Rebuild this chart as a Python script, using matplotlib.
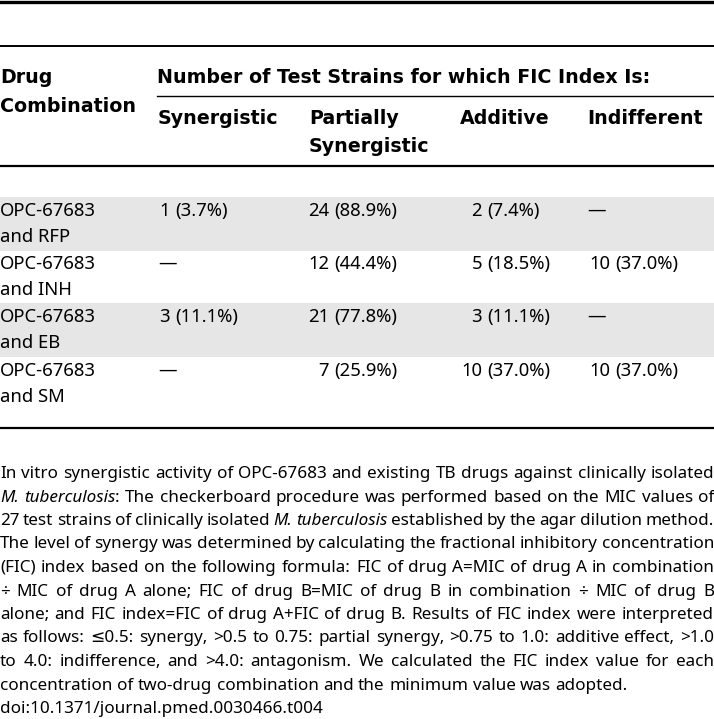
import matplotlib.pyplot as plt

W, H = 714, 719
FONT = ["Noto Sans", "DejaVu Sans"]
BOLD_FONT = ["DejaVu Sans"]
SIZE = 13.3
HEAD_SIZE = 13.7
FOOT_SIZE = 12.3
GRAY = "#e6e6e6"

# table content
drug_pairs = ["RFP", "INH", "EB", "SM"]
col_titles = [["Synergistic"], ["Partially", "Synergistic"], ["Additive"], ["Indifferent"]]
synergistic = [(1, 3.7), None, (3, 11.1), None]
partial = [(24, 88.9), (12, 44.4), (21, 77.8), (7, 25.9)]
additive = [(2, 7.4), (5, 18.5), (3, 11.1), (10, 37.0)]
indifferent = [None, (10, 37.0), None, (10, 37.0)]

footer_lines = [
    "In vitro synergistic activity of OPC-67683 and existing TB drugs against clinically isolated",
    "*M.* *tuberculosis*: The checkerboard procedure was performed based on the MIC values of",
    "27 test strains of clinically isolated *M.* *tuberculosis* established by the agar dilution method.",
    "The level of synergy was determined by calculating the fractional inhibitory concentration",
    "(FIC) index based on the following formula: FIC of drug A=MIC of drug A in combination",
    "\u00f7 MIC of drug A alone; FIC of drug B=MIC of drug B in combination \u00f7 MIC of drug B",
    "alone; and FIC index=FIC of drug A+FIC of drug B. Results of FIC index were interpreted",
    "as follows: \u22640.5: synergy, >0.5 to 0.75: partial synergy, >0.75 to 1.0: additive effect, >1.0",
    "to 4.0: indifference, and >4.0: antagonism. We calculated the FIC index value for each",
    "concentration of two-drug combination and the minimum value was adopted.",
    "doi:10.1371/journal.pmed.0030466.t004",
]

fig = plt.figure(figsize=(W / 100, H / 100), dpi=100)
ax = fig.add_axes([0, 0, 1, 1])
ax.set_xlim(0, W)
ax.set_ylim(H, 0)
ax.axis("off")

# rules
ax.plot([0, W], [1.5, 1.5], color="black", lw=2.4)
ax.plot([0, W], [46, 46], color="black", lw=1.4)
ax.plot([157, W], [96, 96], color="black", lw=1.0)
ax.plot([0, W], [166, 166], color="black", lw=1.6)
ax.plot([0, W], [428, 428], color="black", lw=1.6)

# header
bold = dict(family=BOLD_FONT, size=HEAD_SIZE, weight="bold", va="baseline")
ax.text(0, 83, "Drug", **bold)
ax.text(0, 112, "Combination", **bold)
ax.text(157, 83, "Number of Test Strains for which FIC Index Is:", **bold)
col_x = [158, 309, 460, 587]
for x, title in zip(col_x, col_titles):
    for k, line in enumerate(title):
        ax.text(x, 124 + 28 * k, line, **bold)

# body rows
row_top = [197, 250, 303, 357]
row_h = 53.5
plain = dict(family=FONT, size=SIZE, va="baseline")
paren_x = [175, 334, 487, 615]
columns = [synergistic, partial, additive, indifferent]
for i, pair in enumerate(drug_pairs):
    y0 = row_top[i]
    if i % 2 == 0:
        ax.axhspan(y0, y0 + row_h, color=GRAY, lw=0, zorder=0)
    ax.text(0, y0 + 19, "OPC-67683", **plain)
    ax.text(0, y0 + 45, f"and {pair}", **plain)
    for j, col in enumerate(columns):
        val = col[i]
        if val is None:
            ax.text(col_x[j], y0 + 19, "\u2014", **plain)
        else:
            ax.text(paren_x[j] - 5, y0 + 19, f"{val[0]}", ha="right", **plain)
            ax.text(paren_x[j], y0 + 19, f"({val[1]:.1f}%)", ha="left", **plain)

# footer, justified word by word
renderer = fig.canvas.get_renderer()


def parts_of(word):
    segs = word.split("*")
    return [(s, k % 2 == 1) for k, s in enumerate(segs) if s]


def width_of(s, italic):
    t = ax.text(0, 0, s, family=FONT, size=FOOT_SIZE, style="italic" if italic else "normal")
    w = t.get_window_extent(renderer).width
    t.remove()
    return w


space = width_of("a a", False) - 2 * width_of("a", False)
y = 478
for n, line in enumerate(footer_lines):
    words = [parts_of(w) for w in line.split(" ")]
    widths = [[width_of(s, it) for s, it in w] for w in words]
    total = sum(sum(w) for w in widths)
    justify = n < 9
    gap = (W - total) / (len(words) - 1) if justify else space
    x = 0
    for w, ws in zip(words, widths):
        for (s, it), sw in zip(w, ws):
            ax.text(x, y, s, family=FONT, size=FOOT_SIZE, va="baseline",
                    style="italic" if it else "normal")
            x += sw
        x += gap
    y += 23.5

fig.savefig("out.png", dpi=100)
plt.close(fig)
